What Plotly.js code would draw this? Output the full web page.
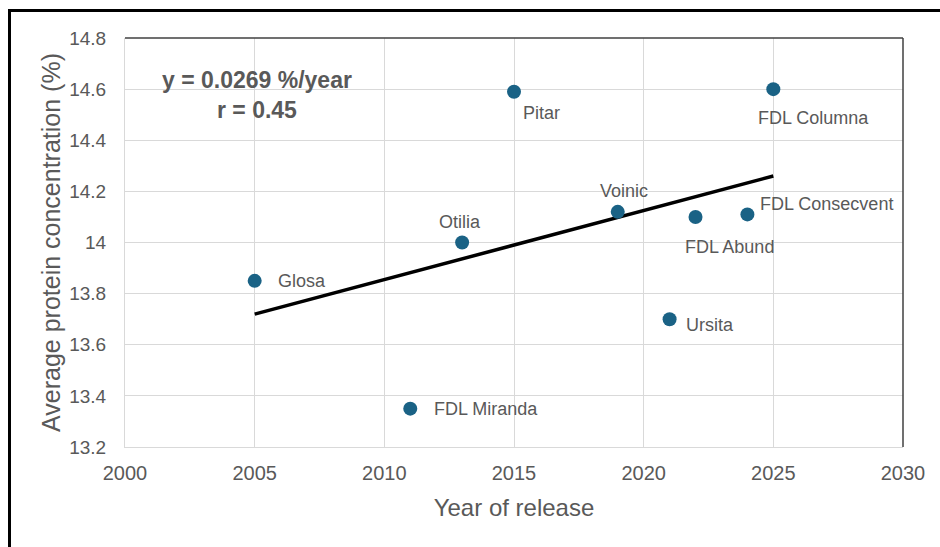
<!DOCTYPE html>
<html>
<head>
<meta charset="utf-8">
<script src="https://cdn.plot.ly/plotly-3.0.1.min.js"></script>
<style>
  html, body { margin: 0; padding: 0; background: #fff; }
  #wrap { position: relative; width: 940px; height: 547px; overflow: hidden; }
  #chart { width: 940px; height: 547px; }
  #frame { position: absolute; left: 8px; top: 9px; width: 940px; height: 560px;
           border-left: 3px solid #000; border-top: 3px solid #000; pointer-events: none; }
</style>
</head>
<body>
<div id="wrap"><div id="chart"></div><div id="frame"></div></div>
<script>
// ---- data ----
const varieties = ["Glosa", "FDL Miranda", "Otilia", "Pitar", "Voinic", "Ursita", "FDL Abund", "FDL Consecvent", "FDL Columna"];
const releaseYear = [2005, 2011, 2013, 2015, 2019, 2021, 2022, 2024, 2025];
const proteinPct = [13.85, 13.35, 14.00, 14.59, 14.12, 13.70, 14.10, 14.11, 14.60];
const trendYear = [2005, 2025];
const trendProtein = [13.72, 14.26];
const yTickVals = [13.2, 13.4, 13.6, 13.8, 14.0, 14.2, 14.4, 14.6, 14.8];
const yTickText = ["13.2", "13.4", "13.6", "13.8", "14", "14.2", "14.4", "14.6", "14.8"];
const xTickVals = [2000, 2005, 2010, 2015, 2020, 2025, 2030];
const equationLines = ["y = 0.0269 %/year", "r = 0.45"];

// ---- label placement (styling) ----
const labelPlacement = {
  "Glosa":          {anchor: "left",   dx: 21, dy: 0},
  "FDL Miranda":    {anchor: "left",   dx: 22, dy: 0},
  "Otilia":         {anchor: "center", dx: -2, dy: 21},
  "Pitar":          {anchor: "left",   dx: 7,  dy: -21},
  "Voinic":         {anchor: "center", dx: 6,  dy: 21},
  "Ursita":         {anchor: "left",   dx: 14, dy: -6},
  "FDL Abund":      {anchor: "center", dx: 34, dy: -30},
  "FDL Consecvent": {anchor: "left",   dx: 11, dy: 10},
  "FDL Columna":    {anchor: "center", dx: 40, dy: -29}
};

const textColor = "#595959";
const fontFam = "Liberation Sans, Arial, sans-serif";

const L = 125, T = 38, R = 37, B = 100, W = 940, H = 547;
const pw = W - L - R, ph = H - T - B;

const traces = [
  {
    x: trendYear, y: trendProtein, mode: "lines", type: "scatter",
    line: {color: "#000000", width: 3.5}, hoverinfo: "skip", showlegend: false
  },
  {
    x: releaseYear, y: proteinPct, mode: "markers", type: "scatter",
    marker: {color: "#1a6285", size: 14}, text: varieties, showlegend: false
  }
];

const annotations = varieties.map((name, i) => {
  const p = labelPlacement[name];
  return {
    x: releaseYear[i], y: proteinPct[i], xref: "x", yref: "y",
    text: name, showarrow: false, xanchor: p.anchor, yanchor: "middle",
    xshift: p.dx, yshift: p.dy,
    font: {family: fontFam, size: 18, color: textColor}
  };
});
annotations.push({
  x: (257 - L) / pw, y: 1 - (95 - T) / ph, xref: "paper", yref: "paper",
  xanchor: "center", yanchor: "middle",
  text: equationLines.map(s => "<b>" + s + "</b>").join("<br>"), showarrow: false,
  font: {family: fontFam, size: 23, color: textColor}, align: "center"
});

const layout = {
  width: W, height: H,
  margin: {l: L, r: R, t: T, b: B},
  paper_bgcolor: "#ffffff", plot_bgcolor: "#ffffff",
  font: {family: fontFam, color: textColor},
  xaxis: {
    range: [2000, 2030], tickvals: xTickVals, ticks: "",
    showgrid: true, gridcolor: "#d9d9d9", gridwidth: 1,
    showline: true, linecolor: "#d9d9d9", linewidth: 1, zeroline: false,
    tickfont: {size: 20, color: textColor}, ticklabelstandoff: 8,
    title: {text: "Year of release", font: {size: 24, color: textColor}, standoff: 16}
  },
  yaxis: {
    range: [13.2, 14.8], tickvals: yTickVals, ticktext: yTickText, ticks: "",
    showgrid: true, gridcolor: "#d9d9d9", gridwidth: 1,
    showline: true, linecolor: "#d9d9d9", linewidth: 1, zeroline: false,
    tickfont: {size: 19, color: textColor}, ticklabelstandoff: 14,
    title: {text: "Average protein concentration (%)", font: {size: 25, color: textColor}, standoff: 1}
  },
  shapes: [
    {type: "line", xref: "paper", yref: "paper", x0: 0, x1: 1, y0: 1, y1: 1, line: {color: "#404040", width: 1.5}},
    {type: "line", xref: "paper", yref: "paper", x0: 1, x1: 1, y0: 0, y1: 1, line: {color: "#404040", width: 1.5}}
  ],
  annotations: annotations
};

Plotly.newPlot("chart", traces, layout, {displayModeBar: false, staticPlot: true});
</script>
</body>
</html>
